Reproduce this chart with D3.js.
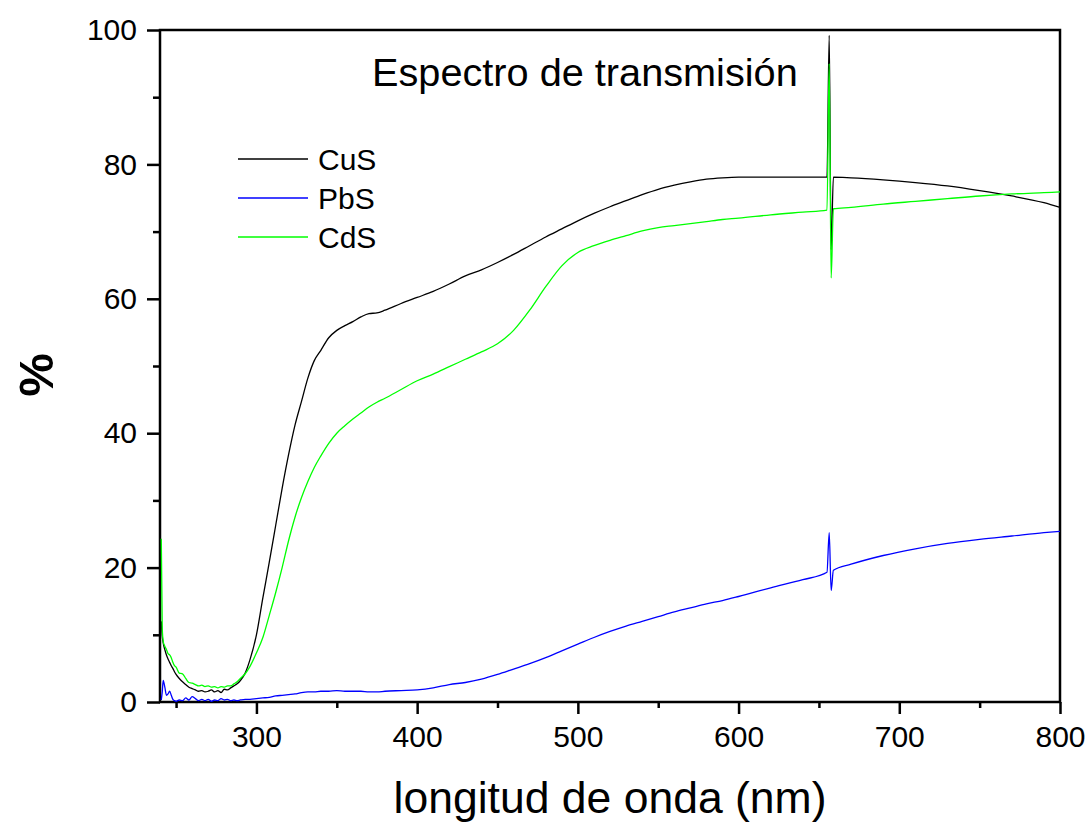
<!DOCTYPE html>
<html>
<head>
<meta charset="utf-8">
<script src="https://cdn.jsdelivr.net/npm/d3@7"></script>
<style>
  html, body { margin: 0; padding: 0; background: #fff; }
  svg { display: block; font-family: "Liberation Sans", Arial, sans-serif; }
</style>
</head>
<body>
<svg id="chart" width="1089" height="822"></svg>
<script>
// Wavelength grid (nm) shared by the three transmission spectra
const wavelength = [
  240.8, 241.4, 242, 243, 244, 245, 246, 247, 248, 249, 250,
  252, 254, 256, 258, 260, 262, 264, 266, 268, 270, 272, 274, 276, 278, 280, 282, 284, 286, 288, 290,
  293, 296,
  300, 304, 308, 312, 316, 320, 324, 328, 332, 336, 340,
  345, 350, 355, 360, 365, 370, 375, 380,
  390, 400, 410, 420, 430, 440, 450, 460, 470, 480, 490, 500, 510, 520, 530, 540, 550, 560, 570, 580, 590, 600,
  620, 640,
  655, 656.4, 657.6, 659,
  670, 690, 710, 730, 750, 770, 790, 800
];

// Transmission (%) for each film
const cusT = [
  12.0, 9.8, 8.8, 7.8, 7.0, 6.4, 5.9, 5.4, 5.0, 4.5, 4.1,
  3.5, 3.0, 2.6, 2.2, 2.0, 1.8, 1.6, 1.7, 1.5, 1.6, 1.8, 1.5, 1.7, 1.4, 1.9, 1.8, 2.1, 2.4, 2.7, 3.2,
  4.3, 6.3,
  10.0, 15.5, 20.8, 26.3, 31.8, 36.8, 41.2, 44.7, 48.2, 50.8, 52.3,
  54.2, 55.3, 56.0, 56.6, 57.3, 57.8, 57.9, 58.3,
  59.3, 60.2, 61.1, 62.2, 63.4, 64.3, 65.4, 66.6, 67.9, 69.2, 70.4, 71.6, 72.7, 73.7, 74.6, 75.5, 76.3, 76.9, 77.4, 77.8, 78.0, 78.1,
  78.1, 78.1,
  78.1, 99.2, 67.3, 78.1,
  78.0, 77.7, 77.3, 76.8, 76.1, 75.3, 74.3, 73.6
];

const pbsT = [
  0.3, 1.5, 3.2, 2.2, 1.0, 1.2, 1.6, 1.0, 0.4, 0.2, 0.1,
  0.3, 0.2, 0.6, 0.3, 0.8, 0.5, 0.2, 0.4, 0.2, 0.4, 0.1, 0.3, 0.2, 0.5, 0.3, 0.4, 0.2, 0.3, 0.2, 0.3,
  0.4, 0.4,
  0.5, 0.6, 0.7, 0.9, 1.0, 1.1, 1.2, 1.4, 1.5, 1.5, 1.6,
  1.6, 1.7, 1.6, 1.6, 1.6, 1.5, 1.5, 1.6,
  1.7, 1.8, 2.1, 2.6, 2.9, 3.4, 4.1, 4.9, 5.7, 6.6, 7.6, 8.6, 9.6, 10.5, 11.3, 12.0, 12.7, 13.4, 14.0, 14.6, 15.1, 15.7,
  17.0, 18.2,
  19.3, 25.2, 16.6, 19.6,
  20.5, 21.8, 22.8, 23.6, 24.2, 24.7, 25.2, 25.4
];

const cdsT = [
  24.3, 11.0, 9.0, 8.3, 7.8, 7.2, 7.0, 6.6, 5.9, 5.4, 5.2,
  4.3, 4.2, 3.5, 2.9, 2.8, 2.6, 2.4, 2.5, 2.3, 2.4, 2.2, 2.3, 2.1, 2.3, 2.2, 2.4, 2.4, 2.7, 3.0, 3.5,
  4.2, 5.3,
  7.3, 9.6, 12.9, 16.3, 20.0, 24.0, 27.5, 30.4, 32.8, 34.9, 36.6,
  38.5, 40.0, 41.1, 42.1, 43.0, 43.9, 44.6, 45.2,
  46.5, 47.8, 48.8, 49.9, 51.0, 52.1, 53.3, 55.3, 58.3, 61.8, 64.9, 66.9, 67.9, 68.7, 69.4, 70.1, 70.6, 70.9, 71.2, 71.5, 71.8, 72.0,
  72.5, 72.9,
  73.2, 95.0, 63.1, 73.4,
  73.6, 74.1, 74.5, 74.9, 75.3, 75.6, 75.8, 75.9
];

const seriesNames = ["CuS", "PbS", "CdS"];
const seriesColors = ["#000000", "#0000ff", "#00ff00"];
const seriesValues = [cusT, pbsT, cdsT];

const xMajorTicks = [300, 400, 500, 600, 700, 800];
const xMinorTicks = [250, 350, 450, 550, 650, 750];
const yMajorTicks = [0, 20, 40, 60, 80, 100];
const yMinorTicks = [10, 30, 50, 70, 90];

const titleText = "Espectro de transmisión";
const xLabelText = "longitud de onda (nm)";
const yLabelText = "%";

// Plot frame
const plot = { left: 160, right: 1060, top: 30, bottom: 702 };

const svg = d3.select("#chart");

const x = d3.scaleLinear().domain([240, 800]).range([plot.left, plot.right]);
const y = d3.scaleLinear().domain([0, 100]).range([plot.bottom, plot.top]);

// Frame around the plot area
svg.append("rect")
  .attr("x", plot.left)
  .attr("y", plot.top)
  .attr("width", plot.right - plot.left)
  .attr("height", plot.bottom - plot.top)
  .attr("fill", "none")
  .attr("stroke", "#000")
  .attr("stroke-width", 2.5);

// Spectra
const line = d3.line()
  .x(d => x(d[0]))
  .y(d => y(d[1]))
  .curve(d3.curveMonotoneX);

const gLines = svg.append("g");
seriesValues.forEach((vals, i) => {
  const pts = wavelength.map((w, k) => [w, vals[k]]);
  gLines.append("path")
    .datum(pts)
    .attr("fill", "none")
    .attr("stroke", seriesColors[i])
    .attr("stroke-width", 1.3)
    .attr("stroke-linejoin", "round")
    .attr("d", line);
});

// Bottom axis: major ticks with labels, minor ticks without
const xAxis = svg.append("g")
  .attr("transform", `translate(0,${plot.bottom})`)
  .call(d3.axisBottom(x).tickValues(xMajorTicks).tickSize(12).tickSizeOuter(0).tickPadding(12).tickFormat(d3.format("d")));
const xMinor = svg.append("g")
  .attr("transform", `translate(0,${plot.bottom})`)
  .call(d3.axisBottom(x).tickValues(xMinorTicks).tickSize(6).tickSizeOuter(0).tickFormat(""));

// Left axis
const yAxis = svg.append("g")
  .attr("transform", `translate(${plot.left},0)`)
  .call(d3.axisLeft(y).tickValues(yMajorTicks).tickSize(13).tickSizeOuter(0).tickPadding(10).tickFormat(d3.format("d")));
const yMinor = svg.append("g")
  .attr("transform", `translate(${plot.left},0)`)
  .call(d3.axisLeft(y).tickValues(yMinorTicks).tickSize(7).tickSizeOuter(0).tickFormat(""));

[xAxis, xMinor, yAxis, yMinor].forEach(g => {
  g.select(".domain").remove();
  g.selectAll(".tick line").attr("stroke", "#000").attr("stroke-width", 2.5);
  g.selectAll(".tick text")
    .attr("fill", "#000")
    .style("font-family", "'Liberation Sans', Arial, sans-serif")
    .style("font-size", "30px");
});

// Title inside the plot
svg.append("text")
  .attr("x", 372)
  .attr("y", 86)
  .attr("font-size", 39.7)
  .attr("fill", "#000")
  .text(titleText);

// Axis titles
svg.append("text")
  .attr("x", (plot.left + plot.right) / 2)
  .attr("y", 813)
  .attr("text-anchor", "middle")
  .attr("font-size", 44.5)
  .attr("fill", "#000")
  .text(xLabelText);

svg.append("text")
  .attr("transform", `translate(53,375) rotate(-90)`)
  .attr("text-anchor", "middle")
  .attr("font-size", 49)
  .attr("font-weight", "bold")
  .attr("fill", "#000")
  .text(yLabelText);

// Legend
const legend = svg.append("g");
const legendY = [159, 198, 237];
seriesNames.forEach((name, i) => {
  legend.append("line")
    .attr("x1", 238).attr("x2", 308)
    .attr("y1", legendY[i]).attr("y2", legendY[i])
    .attr("stroke", seriesColors[i])
    .attr("stroke-width", 1.3);
  legend.append("text")
    .attr("x", 318)
    .attr("y", legendY[i])
    .attr("dy", "0.36em")
    .attr("font-size", 30)
    .attr("fill", "#000")
    .text(name);
});
</script>
</body>
</html>
